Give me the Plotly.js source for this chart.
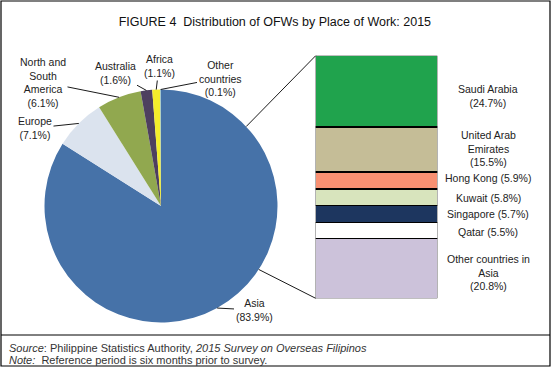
<!DOCTYPE html>
<html>
<head>
<meta charset="utf-8">
<script src="https://cdn.plot.ly/plotly-3.0.1.min.js"></script>
<style>html,body{margin:0;padding:0;background:#fff;}#chart{width:552px;height:368px;}</style>
</head>
<body>
<div id="chart"></div>
<script>
// ---- data ----
var regions = ["Asia", "Europe", "North and South America", "Australia", "Africa", "Other countries"];
var regionLabels = ["Asia<br>(83.9%)", "Europe<br>(7.1%)", "North and<br>South<br>America<br>(6.1%)", "Australia<br>(1.6%)", "Africa<br>(1.1%)", "Other<br>countries<br>(0.1%)"];
var regionValues = [83.9, 7.1, 6.1, 1.6, 1.1, 0.1];
var regionColors = ["#4672a8", "#dbe3ee", "#91a84f", "#4e3f5f", "#f4ed2b", "#7fb3d5"];

var asiaCountries = ["Saudi Arabia", "United Arab Emirates", "Hong Kong", "Kuwait", "Singapore", "Qatar", "Other countries in Asia"];
var asiaLabels = ["Saudi Arabia<br>(24.7%)", "United Arab<br>Emirates<br>(15.5%)", "Hong Kong (5.9%)", "Kuwait (5.8%)", "Singapore (5.7%)", "Qatar (5.5%)", "Other countries in<br>Asia<br>(20.8%)"];
var asiaValues = [24.7, 15.5, 5.9, 5.8, 5.7, 5.5, 20.8];
var asiaColors = ["#20a34d", "#c5bd97", "#f89072", "#d8e4bd", "#1d365f", "#ffffff", "#ccc2da"];

// ---- layout constants (pixels) ----
var W = 552, H = 368;
var pieCx = 161, pieCy = 206, pieR = 116.5;
var barLeft = 315.7, barRight = 437.3, barTop = 55.7, barBottom = 298.3;
var barLabelX = 488;
var barLabelShift = [-5, 1, 2, -1, 0, -2, -4];
// label text centres for pie slices (pixels)
var pieLabelPos = [[254, 310], [35, 128], [43, 82], [115, 73], [159, 66], [220, 78]];
var connectorAngles = [47, 123]; // degrees clockwise from top, where bar connectors leave the pie
var FONT = "Liberation Sans, Arial, sans-serif";

function px(x) { return x / W; }
function py(y) { return 1 - y / H; }

var traces = [];
traces.push({
  type: "pie",
  labels: regions,
  values: regionValues,
  sort: false,
  direction: "clockwise",
  rotation: 0,
  textinfo: "none",
  hoverinfo: "label+percent",
  marker: { colors: regionColors, line: { width: 0 } },
  domain: { x: [px(pieCx - pieR), px(pieCx + pieR)], y: [py(pieCy + pieR), py(pieCy - pieR)] },
  showlegend: false
});

for (var i = 0; i < asiaCountries.length; i++) {
  traces.push({
    type: "bar",
    x: ["Asia"],
    y: [asiaValues[i]],
    name: asiaCountries[i],
    width: 1,
    marker: { color: asiaColors[i], line: { color: "#000", width: 1.3 } },
    xaxis: "x", yaxis: "y",
    showlegend: false,
    hoverinfo: "name+y"
  });
}

var asiaTotal = asiaValues.reduce(function (a, b) { return a + b; }, 0);
var annotations = [];

// pie slice labels with leader lines
var total = regionValues.reduce(function (a, b) { return a + b; }, 0);
var cum = 0;
for (var j = 0; j < regions.length; j++) {
  var mid = (cum + regionValues[j] / 2) / total * 2 * Math.PI;
  cum += regionValues[j];
  var ex = pieCx + pieR * Math.sin(mid);
  var ey = pieCy - pieR * Math.cos(mid);
  var lp = pieLabelPos[j];
  annotations.push({
    xref: "paper", yref: "paper",
    x: px(ex), y: py(ey),
    ax: lp[0] - ex, ay: lp[1] - ey,
    axref: "pixel", ayref: "pixel",
    text: regionLabels[j],
    showarrow: true, arrowhead: 0, arrowwidth: 0.9, arrowcolor: "#000", standoff: 0, startstandoff: 0,
    font: { family: FONT, size: 10.5, color: "#222" },
    align: "center"
  });
}

// bar labels
var c2 = 0;
for (var k = 0; k < asiaValues.length; k++) {
  var m = c2 + asiaValues[k] / 2;
  c2 += asiaValues[k];
  annotations.push({
    xref: "paper", yref: "y",
    x: px(barLabelX), y: m, yshift: barLabelShift[k],
    text: asiaLabels[k],
    showarrow: false,
    xanchor: "center", yanchor: "middle",
    font: { family: FONT, size: 10.5, color: "#222" },
    align: "center"
  });
}

// source notes
annotations.push({
  xref: "paper", yref: "paper", x: px(7), y: py(347.5), xanchor: "left", yanchor: "middle",
  text: "<i>Source</i>: Philippine Statistics Authority, <i>2015 Survey on Overseas Filipinos</i>",
  showarrow: false, font: { family: FONT, size: 11, color: "#333" }
});
annotations.push({
  xref: "paper", yref: "paper", x: px(7), y: py(360), xanchor: "left", yanchor: "middle",
  text: "<i>Note:</i>  Reference period is six months prior to survey.",
  showarrow: false, font: { family: FONT, size: 11, color: "#333" }
});

var shapes = [];
// connector lines pie -> bar
var a0 = connectorAngles[0] * Math.PI / 180, a1 = connectorAngles[1] * Math.PI / 180;
shapes.push({ type: "line", xref: "paper", yref: "paper",
  x0: px(pieCx + pieR * Math.sin(a0)), y0: py(pieCy - pieR * Math.cos(a0)),
  x1: px(barLeft), y1: py(barTop), line: { color: "#000", width: 0.9 } });
shapes.push({ type: "line", xref: "paper", yref: "paper",
  x0: px(pieCx + pieR * Math.sin(a1)), y0: py(pieCy - pieR * Math.cos(a1)),
  x1: px(barLeft), y1: py(barBottom), line: { color: "#000", width: 0.9 } });
// frame and separator
shapes.push({ type: "rect", xref: "paper", yref: "paper", x0: px(1), y0: py(366), x1: px(550), y1: py(1),
  line: { color: "#000", width: 1.2 } });
shapes.push({ type: "line", xref: "paper", yref: "paper", x0: px(1), y0: py(335), x1: px(550), y1: py(335),
  line: { color: "#000", width: 1 } });

var layout = {
  width: W, height: H,
  margin: { l: 0, r: 0, t: 0, b: 0 },
  paper_bgcolor: "#fff", plot_bgcolor: "rgba(0,0,0,0)",
  title: { text: "FIGURE 4  Distribution of OFWs by Place of Work: 2015", x: 0.498, xanchor: "center", y: py(22), yanchor: "middle",
    font: { family: FONT, size: 12.5, color: "#111" } },
  barmode: "stack",
  bargap: 0,
  xaxis: { domain: [px(barLeft), px(barRight)], range: [-0.5, 0.5], visible: false, fixedrange: true },
  yaxis: { domain: [py(barBottom), py(barTop)], range: [asiaTotal, 0], visible: false, fixedrange: true },
  annotations: annotations,
  shapes: shapes,
  showlegend: false
};

Plotly.newPlot("chart", traces, layout, { displayModeBar: false, staticPlot: true });
</script>
</body>
</html>
